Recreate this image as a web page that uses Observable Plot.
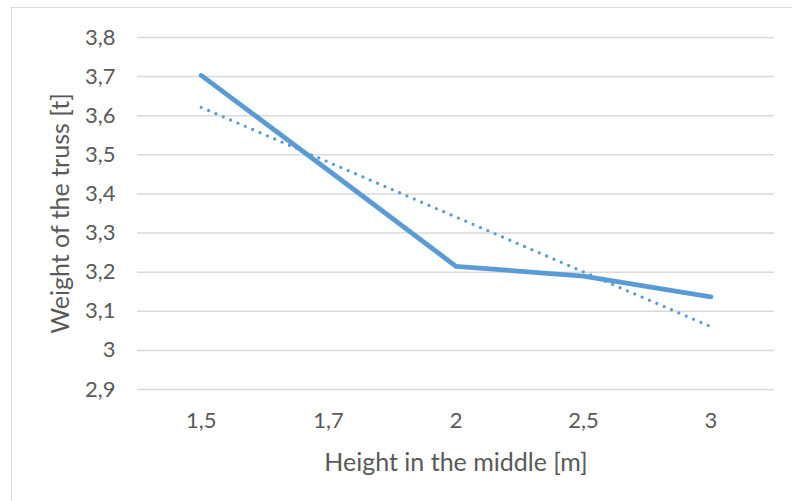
<!DOCTYPE html>
<html>
<head>
<meta charset="utf-8">
<script src="https://cdn.jsdelivr.net/npm/d3@7"></script>
<script src="https://cdn.jsdelivr.net/npm/@observablehq/plot@0.6"></script>
<style>
  html, body { margin: 0; padding: 0; background: #fff; }
  #wrap { position: relative; width: 792px; height: 501px; overflow: hidden; }
  #border { position: absolute; left: 11px; top: 7px; width: 800px; height: 520px; border: 1.5px solid #d9d9d9; box-sizing: border-box; }
  #chart { position: absolute; left: 0; top: 0; }
</style>
</head>
<body>
<div id="wrap"><div id="border"></div><div id="chart"></div></div>
<script>
const categories = ["1,5", "1,7", "2", "2,5", "3"];
const weights = [3.703, 3.46, 3.215, 3.19, 3.137];
const yTicks = [2.9, 3.0, 3.1, 3.2, 3.3, 3.4, 3.5, 3.6, 3.7, 3.8];
const xTitle = "Height in the middle [m]";
const yTitle = "Weight of the truss [t]";

const data = categories.map((c, i) => ({ i: i + 1, cat: c, w: weights[i] }));
const blue = "#5b9bd5";
const textColor = "#595959";
const fmt = d => String(+d.toFixed(1)).replace(".", ",");

const chart = Plot.plot({
  width: 792,
  height: 501,
  marginLeft: 137,
  marginRight: 18,
  marginTop: 37,
  marginBottom: 112,
  style: { fontFamily: "Lato, sans-serif", fontSize: "22px", color: textColor, background: "transparent" },
  x: { type: "linear", domain: [0.5, 5.5], axis: null },
  y: { domain: [2.9, 3.8], axis: null },
  marks: [
    Plot.gridY(yTicks, { stroke: "#d9d9d9", strokeOpacity: 1, strokeWidth: 1.5 }),
    Plot.text(yTicks, { y: d => d, text: fmt, frameAnchor: "left", textAnchor: "end", lineAnchor: "middle", dx: -22, fill: textColor, fontSize: 22 }),
    Plot.text(data, { x: "i", text: "cat", frameAnchor: "bottom", textAnchor: "middle", lineAnchor: "middle", dy: 31, fill: textColor, fontSize: 22 }),
    Plot.linearRegressionY(data, { x: "i", y: "w", ci: 0, stroke: blue, strokeWidth: 3.3, strokeDasharray: "0 8", strokeLinecap: "round" }),
    Plot.line(data, { x: "i", y: "w", stroke: blue, strokeWidth: 4.8, strokeLinecap: "round", strokeLinejoin: "round" }),
    Plot.text([xTitle], { text: d => d, frameAnchor: "bottom", textAnchor: "middle", lineAnchor: "middle", dy: 73, fill: textColor, fontSize: 25 }),
    Plot.text([yTitle], { text: d => d, frameAnchor: "left", textAnchor: "middle", lineAnchor: "middle", dx: -77, rotate: -90, fill: textColor, fontSize: 25 })
  ]
});
document.getElementById("chart").appendChild(chart);
</script>
</body>
</html>
